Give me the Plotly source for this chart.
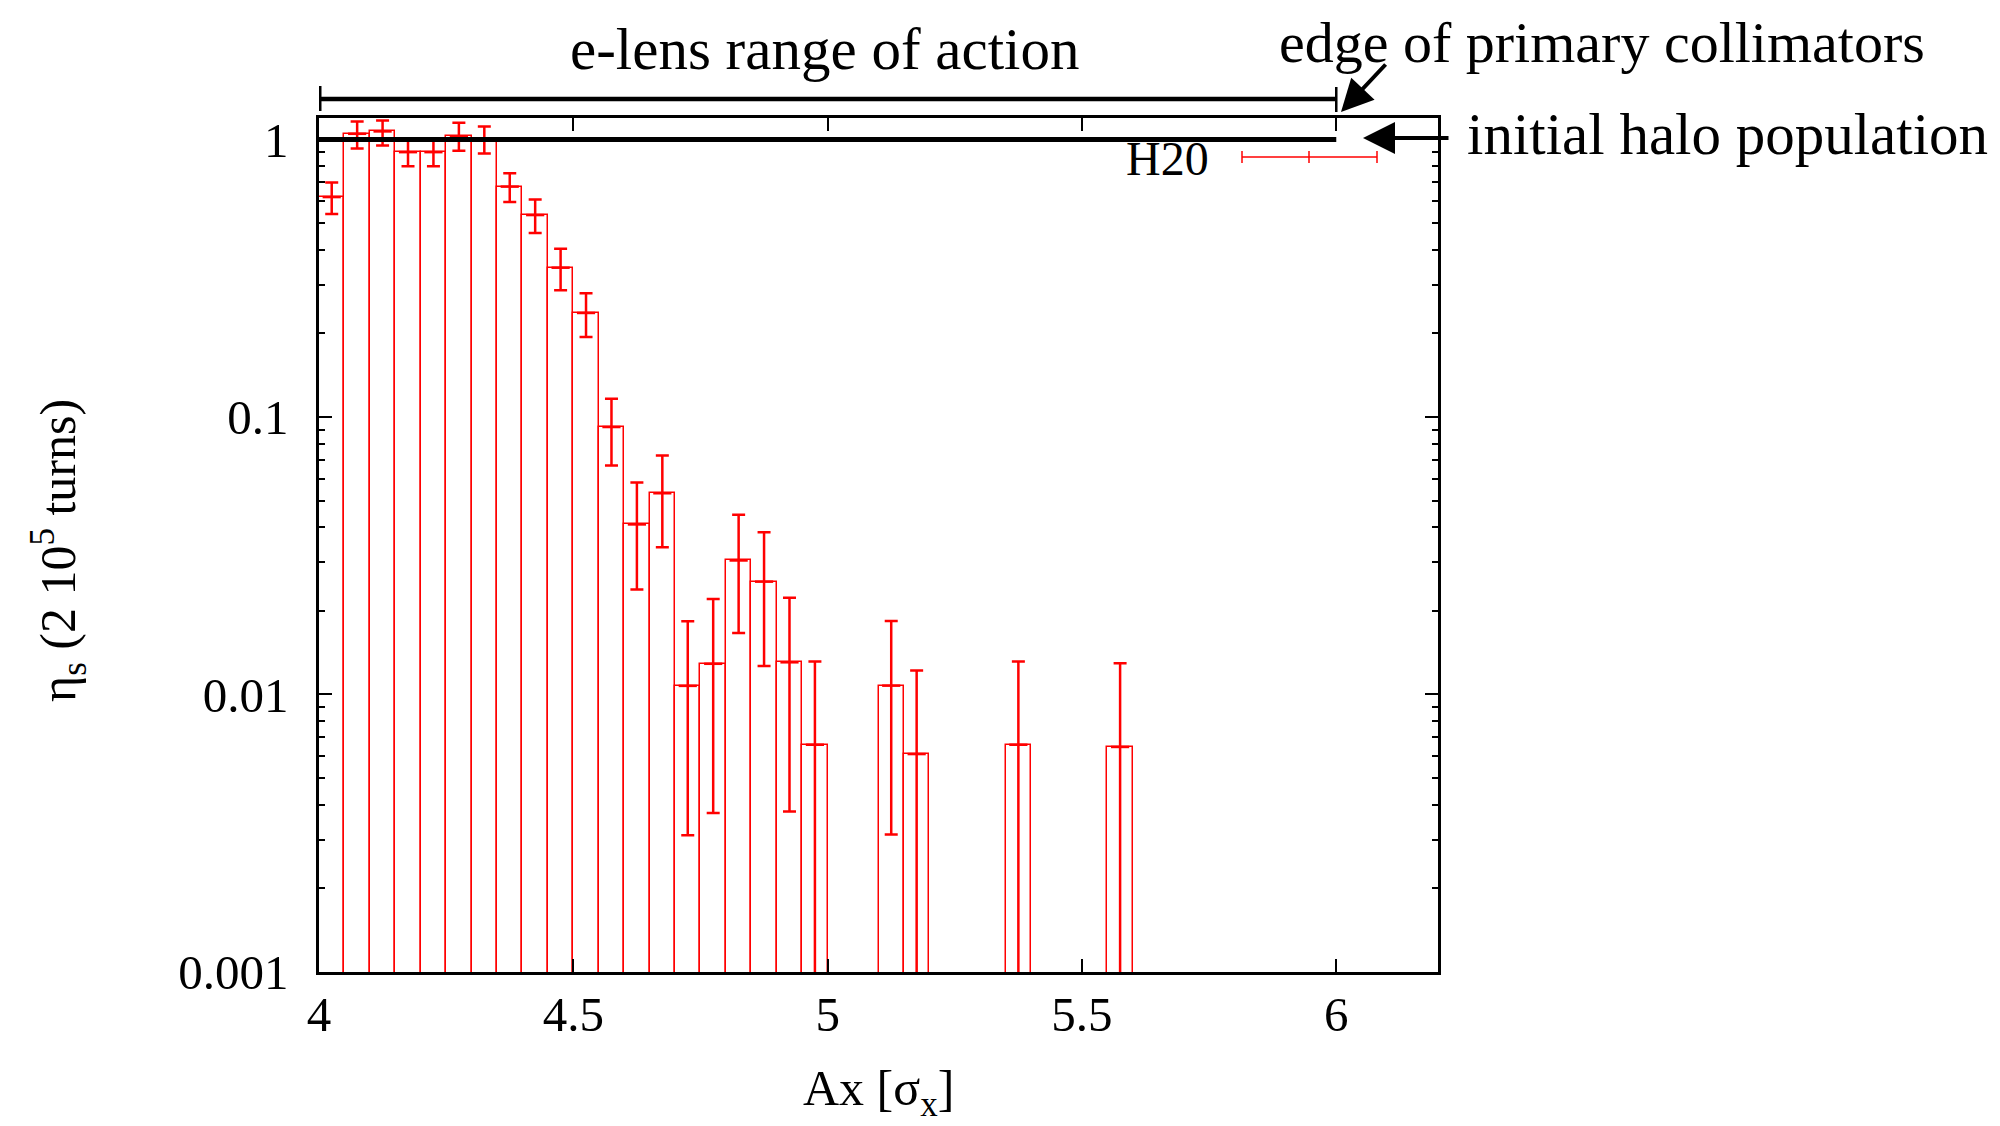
import plotly.graph_objects as go

# ---- data ----
bin_centers = [4.025, 4.075, 4.125, 4.175, 4.225, 4.275, 4.325, 4.375, 4.425, 4.475,
               4.525, 4.575, 4.625, 4.675, 4.725, 4.775, 4.825, 4.875, 4.925, 4.975,
               5.125, 5.175, 5.375, 5.575]
eta_values = [0.62, 1.048, 1.069, 0.90, 0.90, 1.025, 1.00, 0.676, 0.534, 0.345,
              0.237, 0.092, 0.041, 0.0531, 0.01074, 0.0129, 0.0304, 0.0255, 0.01306, 0.00659,
              0.01076, 0.0061, 0.00659, 0.00647]
upper_values = [0.70, 1.16, 1.17, 1.0, 1.0, 1.148, 1.114, 0.755, 0.608, 0.404,
                0.279, 0.1164, 0.058, 0.0726, 0.01837, 0.0221, 0.0444, 0.0384, 0.0223, 0.01315,
                0.0184, 0.01219, 0.01315, 0.01295]
lower_values = [0.539, 0.928, 0.951, 0.80, 0.80, 0.911, 0.890, 0.595, 0.46, 0.286,
                0.194, 0.0668, 0.0239, 0.0339, 0.00311, 0.00374, 0.01665, 0.01267, 0.00379, 0.0,
                0.00313, 0.0, 0.0, 0.0]
bin_width = 0.05
x_ticks = [4, 4.5, 5, 5.5, 6]
y_ticks = [0.001, 0.01, 0.1, 1]
y_ticktext = ["0.001", "0.01", "0.1", "1"]
elens_range = [4.0, 6.0]
halo_level = 1.0

err_plus = [u - v for u, v in zip(upper_values, eta_values)]
err_minus = [v - l for v, l in zip(eta_values, lower_values)]

RED = "#ff0000"
FONT = "Liberation Serif"

# figure geometry (the page body adds an 8px offset)
OFF = 8
W, H = 1992, 1118
L, R, T, B = 311, 562, 110, 154
PW, PH = W - L - R, H - T - B


def px(x_screen):
    return (x_screen - OFF - L) / PW


def py(y_screen):
    return (H - B - (y_screen - OFF)) / PH


fig = go.Figure()

fig.add_trace(go.Bar(
    x=bin_centers, y=eta_values, width=bin_width,
    marker=dict(color="rgba(0,0,0,0)", line=dict(color=RED, width=1.5)),
    showlegend=False, hoverinfo="skip",
))

fig.add_trace(go.Scatter(
    x=bin_centers, y=eta_values, mode="markers",
    marker=dict(symbol="line-ew-open", size=13, color=RED, line=dict(color=RED, width=2.5)),
    error_y=dict(type="data", array=err_plus, arrayminus=err_minus, symmetric=False,
                 color=RED, thickness=2.5, width=6.5),
    showlegend=False, hoverinfo="skip",
))

shapes = []
# initial halo population line at y=1
shapes.append(dict(type="line", xref="x", yref="y", x0=elens_range[0], x1=elens_range[1],
                   y0=halo_level, y1=halo_level, line=dict(color="black", width=5), layer="above"))
# e-lens range bracket
shapes.append(dict(type="line", xref="x", yref="paper", x0=elens_range[0], x1=elens_range[1],
                   y0=py(99), y1=py(99), line=dict(color="black", width=4.5), layer="above"))
shapes.append(dict(type="line", xref="x", yref="paper", x0=elens_range[0], x1=elens_range[0],
                   y0=py(86), y1=py(111), line=dict(color="black", width=5), layer="above"))
shapes.append(dict(type="line", xref="x", yref="paper", x0=elens_range[1], x1=elens_range[1],
                   y0=py(87), y1=py(112), line=dict(color="black", width=2.5), layer="above"))
# legend sample (H20)
lx0, lx1, lxc, ly = 1242, 1377, 1309, 157
shapes.append(dict(type="line", xref="paper", yref="paper", x0=px(lx0), x1=px(lx1),
                   y0=py(ly), y1=py(ly), line=dict(color=RED, width=1.5)))
for xx in (lx0, lxc, lx1):
    shapes.append(dict(type="line", xref="paper", yref="paper", x0=px(xx), x1=px(xx),
                       y0=py(ly - 6), y1=py(ly + 6), line=dict(color=RED, width=1.5)))

annotations = [
    dict(text="e-lens range of action", x=px(824), y=py(49), xref="paper", yref="paper",
         showarrow=False, font=dict(family=FONT, size=59, color="black"),
         xanchor="center", yanchor="middle"),
    dict(text="edge of primary collimators", x=px(1602), y=py(8.5), xref="paper", yref="paper",
         showarrow=False, font=dict(family=FONT, size=58, color="black"),
         xanchor="center", yanchor="top"),
    dict(text="initial halo population", x=px(1465), y=py(134), xref="paper", yref="paper",
         showarrow=False, font=dict(family=FONT, size=59, color="black"),
         xanchor="left", yanchor="middle"),
    dict(text="H20", x=px(1167), y=py(158), xref="paper", yref="paper",
         showarrow=False, font=dict(family=FONT, size=48, color="black"),
         xanchor="center", yanchor="middle"),
    # arrows
    dict(text="", x=px(1341), y=py(112), xref="paper", yref="paper", showarrow=True,
         ax=46, ay=-49, arrowhead=2, arrowsize=1.6, arrowwidth=4, arrowcolor="black"),
    dict(text="", x=px(1363), y=py(138), xref="paper", yref="paper", showarrow=True,
         ax=87, ay=0, arrowhead=2, arrowsize=1.6, arrowwidth=4, arrowcolor="black"),
    # axis titles
    dict(text="Ax [σ<sub>x</sub>]", x=px(878), y=py(1092), xref="paper", yref="paper",
         showarrow=False, font=dict(family=FONT, size=50, color="black"),
         xanchor="center", yanchor="middle"),
    dict(text="η<sub>s</sub> (2 10<sup>5</sup> turns)", x=px(58), y=py(551), xref="paper", yref="paper",
         showarrow=False, textangle=-90, font=dict(family=FONT, size=50, color="black"),
         xanchor="center", yanchor="middle"),
]

fig.update_layout(
    width=W, height=H,
    margin=dict(l=L, r=R, t=T, b=B, pad=0),
    paper_bgcolor="white", plot_bgcolor="white",
    bargap=0, showlegend=False,
    font=dict(family=FONT, size=48, color="black"),
    shapes=shapes, annotations=annotations,
    xaxis=dict(range=[4, 6.2], tickvals=x_ticks, ticktext=[str(t) for t in x_ticks],
               ticks="inside", ticklen=13, tickwidth=2, tickcolor="black",
               showline=True, linewidth=2.5, linecolor="black", mirror="ticks",
               showgrid=False, zeroline=False, automargin=False, ticklabelstandoff=-3,
               tickfont=dict(family=FONT, size=49, color="black")),
    yaxis=dict(type="log", range=[-3, 0.0773], tickvals=y_ticks, ticktext=y_ticktext,
               ticks="inside", ticklen=13, tickwidth=2, tickcolor="black",
               showline=True, linewidth=2.5, linecolor="black", mirror="ticks",
               showgrid=False, zeroline=False, automargin=False, ticklabelstandoff=18,
               minor=dict(ticks="inside", ticklen=6.5, tickwidth=2, tickcolor="black",
                          dtick="D1", showgrid=False),
               tickfont=dict(family=FONT, size=49, color="black")),
)

fig.write_html("out.html")
